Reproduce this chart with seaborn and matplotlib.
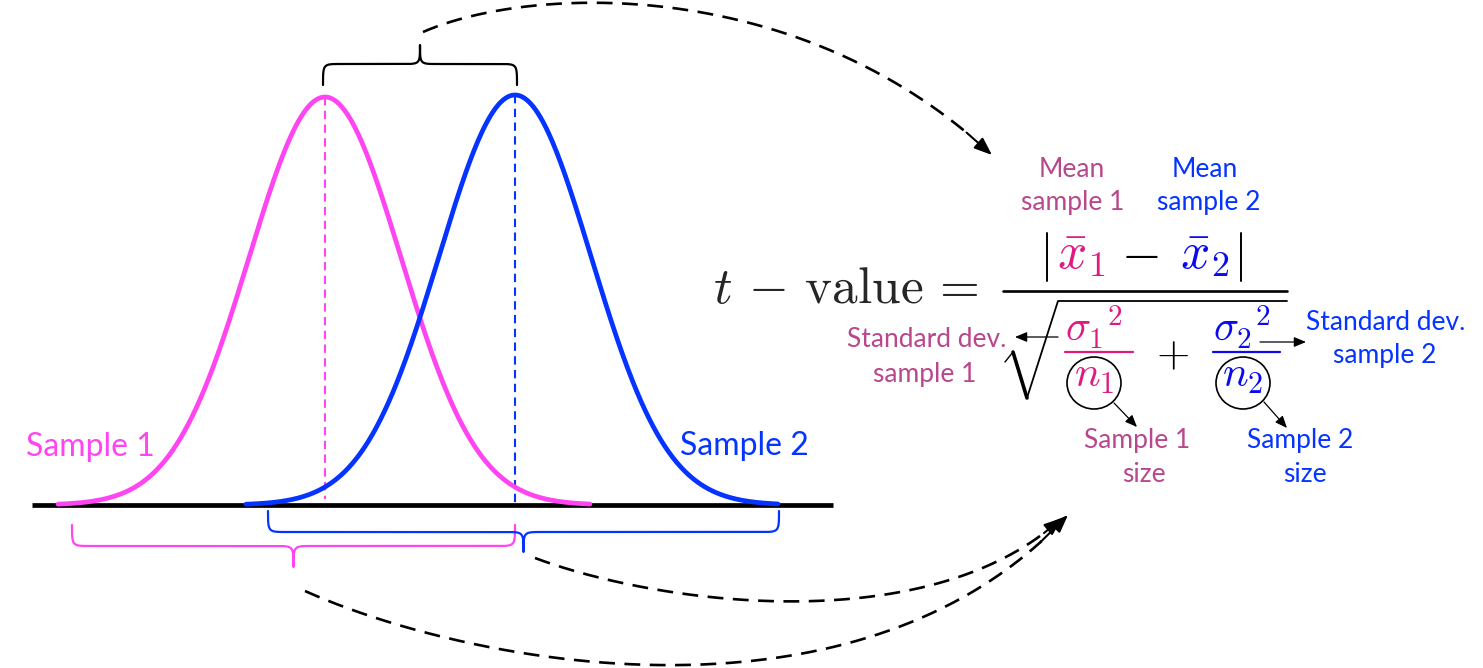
import numpy as np
import matplotlib
matplotlib.use("Agg")
import matplotlib.pyplot as plt
import seaborn as sns
from matplotlib.patches import Ellipse

# two samples (x position of mean, spread, curve height above the axis)
sample_names = ["Sample 1", "Sample 2"]
means = [325, 515]
sds = [76, 76]
heights = [408, 410]
x_from = [58, 246]
x_to = [590, 778]

# brace spans under / above the curves
top_span = [323, 517]
low_spans = [[72, 515], [268, 779]]

c_pink = "#FF44F2"
c_blue = "#0533FF"
c_mute = "#B8478B"
c_mpink = "#E01A80"
c_mblue = "#0A0AF0"

sns.set_theme(style="white")
plt.rcParams["mathtext.fontset"] = "cm"
plt.rcParams["font.family"] = ["Lato", "DejaVu Sans"]

fig = plt.figure(figsize=(14.83, 6.68), dpi=100)
ax = fig.add_axes([0, 0, 1, 1])
ax.set_xlim(0, 1483)
ax.set_ylim(668, 0)
ax.axis("off")

base_y = 505


def bez(p0, p1, p2, p3, n=150):
    t = np.linspace(0, 1, n)[:, None]
    p0, p1, p2, p3 = map(np.asarray, (p0, p1, p2, p3))
    return (1 - t) ** 3 * p0 + 3 * (1 - t) ** 2 * t * p1 + 3 * (1 - t) * t ** 2 * p2 + t ** 3 * p3


def brace(x0, x1, y_end, y_bar, y_tip, color, lw=1.6, r=18):
    xc = (x0 + x1) / 2
    parts = [
        bez((x0, y_end), (x0, y_bar), (x0, y_bar), (x0 + r, y_bar)),
        bez((xc - r, y_bar), (xc, y_bar), (xc, y_bar), (xc, y_tip)),
        bez((xc, y_tip), (xc, y_bar), (xc, y_bar), (xc + r, y_bar)),
        bez((x1 - r, y_bar), (x1, y_bar), (x1, y_bar), (x1, y_end)),
    ]
    pts = np.vstack(parts)
    ax.plot(pts[:, 0], pts[:, 1], color=color, lw=lw, solid_capstyle="round")


def dashed_arrow(p0, p1, p2, p3):
    pts = bez(p0, p1, p2, p3, 300)
    ax.plot(pts[:-12, 0], pts[:-12, 1], color="black", lw=1.9, dashes=(6, 3.6))
    ax.annotate("", xy=pts[-1], xytext=pts[-14],
                arrowprops=dict(arrowstyle="-|>,head_length=0.9,head_width=0.35",
                                color="black", lw=1.5, shrinkA=0, shrinkB=0))


# axis line
ax.plot([32, 833], [base_y, base_y], color="black", lw=3.4, solid_capstyle="butt")

# mean markers
for m, h, c, end in zip(means, heights, [c_pink, c_blue], [499, 505]):
    ax.plot([m, m], [base_y - h, end], color=c, lw=1.5, dashes=(4, 2.6))

# curves
for m, s, h, a, b, c in zip(means, sds, heights, x_from, x_to, [c_pink, c_blue]):
    xs = np.linspace(a, b, 400)
    ys = base_y - h * np.exp(-0.5 * ((xs - m) / s) ** 2)
    sns.lineplot(x=xs, y=ys, ax=ax, color=c, lw=3.4, estimator=None, sort=False)

# braces
brace(top_span[0], top_span[1], 85, 64, 45, "black", lw=1.6, r=17)
brace(low_spans[0][0], low_spans[0][1], 525, 546, 567, c_pink, lw=1.6, r=18)
brace(low_spans[1][0], low_spans[1][1], 511, 532, 552, c_blue, lw=1.6, r=18)

# curve labels
ax.text(26, 456, sample_names[0], color=c_pink, fontsize=23, va="baseline", ha="left")
ax.text(680, 455, sample_names[1], color=c_blue, fontsize=23, va="baseline", ha="left")

# dashed connectors
dashed_arrow((423, 32), (530, -15), (800, -25), (992, 155))
dashed_arrow((535, 558), (660, 605), (930, 640), (1062, 518))
dashed_arrow((305, 591), (470, 665), (860, 740), (1068, 515))

# formula
ax.text(713, 303, r"$t\,-\,\mathrm{value}\,=$", fontsize=37, va="baseline", ha="left")
ax.text(1057, 268, r"$\bar{x}_1$", fontsize=37, color=c_mpink, va="baseline", ha="left")
ax.text(1140, 268, r"$-$", fontsize=37, color="black", va="baseline", ha="center")
ax.text(1180, 268, r"$\bar{x}_2$", fontsize=37, color=c_mblue, va="baseline", ha="left")
for bx in [1047, 1241]:
    ax.plot([bx, bx], [233, 281], color="black", lw=1.4)
ax.plot([1003, 1287], [291, 291], color="black", lw=1.9)
# root sign
ax.plot([1005, 1013], [362, 352], color="black", lw=1.0)
ax.plot([1013, 1027], [352, 398], color="black", lw=2.6)
ax.plot([1027, 1058, 1287], [398, 301, 301], color="black", lw=1.3)

ax.text(1065, 342, r"${\sigma_1}^2$", fontsize=30, color=c_mpink, va="baseline", ha="left")
ax.plot([1065, 1133], [352, 352], color=c_mpink, lw=1.6)
ax.text(1094, 387, r"$n_1$", fontsize=31, color=c_mpink, va="baseline", ha="center")
ax.text(1173, 354, r"$+$", fontsize=31, color="black", va="center", ha="center")
ax.text(1213, 342, r"${\sigma_2}^2$", fontsize=30, color=c_mblue, va="baseline", ha="left")
ax.plot([1213, 1280], [352, 352], color=c_mblue, lw=1.6)
ax.text(1243, 387, r"$n_2$", fontsize=31, color=c_mblue, va="baseline", ha="center")

for cx in [1094, 1243]:
    ax.add_patch(Ellipse((cx, 383), 54, 52, fill=False, ec="black", lw=1.2))

small = dict(arrowstyle="-|>,head_length=0.6,head_width=0.25", color="black", lw=0.9,
             shrinkA=0, shrinkB=0)
ax.annotate("", xy=(1015, 337), xytext=(1058, 337), arrowprops=small)
ax.annotate("", xy=(1306, 342), xytext=(1260, 342), arrowprops=small)
ax.annotate("", xy=(1137, 427), xytext=(1114, 403), arrowprops=small)
ax.annotate("", xy=(1287, 428), xytext=(1264, 402), arrowprops=small)

# annotations around the formula
notes = [
    ("Mean", 1072, 177, c_mute), ("sample 1", 1073, 210, c_mute),
    ("Mean", 1205, 177, c_blue), ("sample 2", 1209, 210, c_blue),
    ("Standard dev.", 927, 347, c_mute), ("sample 1", 925, 382, c_mute),
    ("Standard dev.", 1386, 330, c_blue), ("sample 2", 1385, 363, c_blue),
    ("Sample 1", 1137, 448, c_mute), ("size", 1144, 482, c_mute),
    ("Sample 2", 1300, 448, c_blue), ("size", 1305, 482, c_blue),
]
for txt, x, y, c in notes:
    ax.text(x, y, txt, color=c, fontsize=19, va="baseline", ha="center")

fig.savefig("out.png", dpi=100)
